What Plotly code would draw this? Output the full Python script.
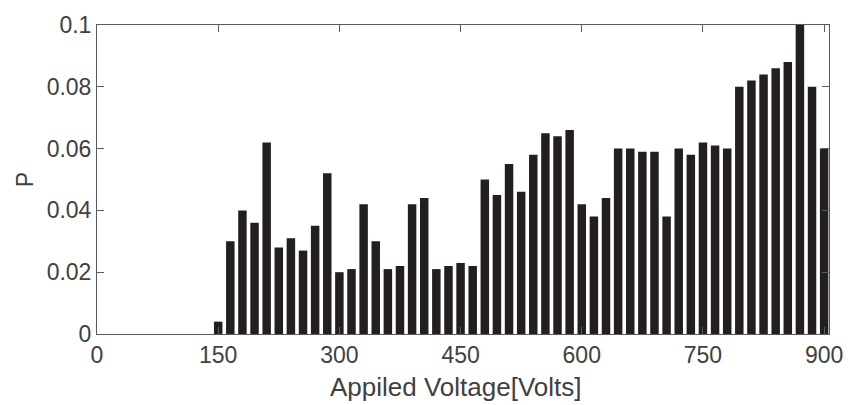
import plotly.graph_objects as go

voltage = list(range(0, 901, 15))
probability = [
    0, 0, 0, 0, 0, 0, 0, 0, 0, 0,          # 0..135
    0.004, 0.030, 0.040, 0.036, 0.062,     # 150..210
    0.028, 0.031, 0.027, 0.035, 0.052,     # 225..285
    0.020, 0.021, 0.042, 0.030, 0.021,     # 300..360
    0.022, 0.042, 0.044, 0.021, 0.022,     # 375..435
    0.023, 0.022, 0.050, 0.045, 0.055,     # 450..510
    0.046, 0.058, 0.065, 0.064, 0.066,     # 525..585
    0.042, 0.038, 0.044, 0.060, 0.060,     # 600..660
    0.059, 0.059, 0.038, 0.060, 0.058,     # 675..735
    0.062, 0.061, 0.060, 0.080, 0.082,     # 750..810
    0.084, 0.086, 0.088, 0.100, 0.080,     # 825..885
    0.060,                                 # 900
]
x_ticks = [0, 150, 300, 450, 600, 750, 900]
y_ticks = [0, 0.02, 0.04, 0.06, 0.08, 0.1]
y_tick_labels = ["0", "0.02", "0.04", "0.06", "0.08", "0.1"]
x_title = "Appiled Voltage[Volts]"
y_title = "P"

text_color = "#404040"
axis_color = "#5a5a5a"
font_family = "Liberation Sans, Arial, sans-serif"

fig = go.Figure()
fig.add_trace(go.Bar(
    x=voltage, y=probability, width=10.5,
    marker=dict(color="#231f20", line=dict(width=0)),
    showlegend=False,
))

fig.update_layout(
    width=855, height=405,
    margin=dict(l=97, r=16, t=19, b=71),
    paper_bgcolor="white", plot_bgcolor="white",
    font=dict(family=font_family, color=text_color),
)
fig.add_annotation(
    text=x_title, xref="paper", yref="paper", x=0.4906, y=-0.172,
    xanchor="center", yanchor="middle", showarrow=False,
    font=dict(size=26, color=text_color),
)
fig.update_xaxes(
    range=[0, 906], tickvals=x_ticks, ticktext=[str(v) for v in x_ticks],
    ticks="inside", ticklen=7, tickcolor=axis_color, tickwidth=1,
    showline=True, linecolor=axis_color, linewidth=1, mirror="ticks",
    showgrid=False, zeroline=False,
    tickfont=dict(size=23, color=text_color),
)
fig.update_yaxes(
    range=[0, 0.1], tickvals=y_ticks, ticktext=y_tick_labels,
    ticks="inside", ticklen=7, tickcolor=axis_color, tickwidth=1,
    showline=True, linecolor=axis_color, linewidth=1, mirror="ticks",
    showgrid=False, zeroline=False,
    tickfont=dict(size=23, color=text_color),
    title=dict(text=y_title, standoff=6, font=dict(size=23, color=text_color)),
)

fig.write_html("out.html")
